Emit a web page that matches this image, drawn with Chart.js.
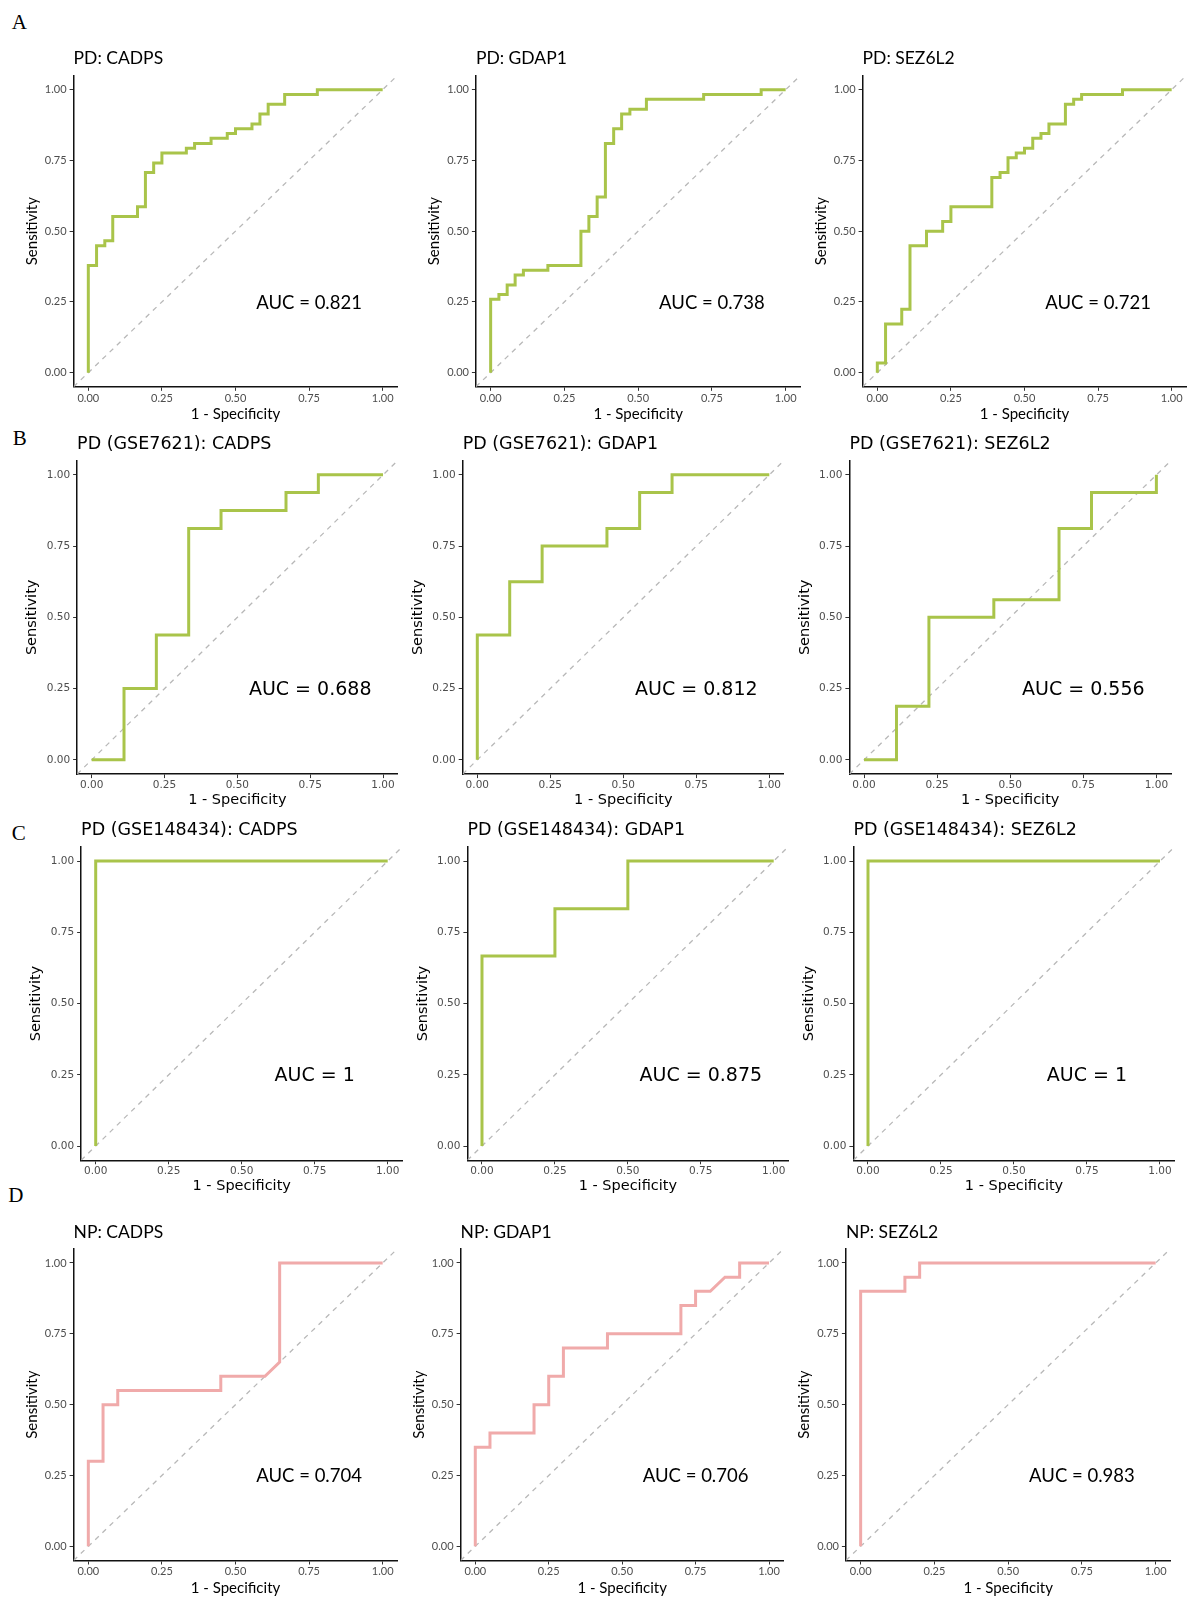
<!DOCTYPE html>
<html>
<head>
<meta charset="utf-8">
<title>ROC curves</title>
<script src="https://cdn.jsdelivr.net/npm/chart.js@4.4.1/dist/chart.umd.min.js"></script>
<style>
  html, body { margin: 0; padding: 0; background: #fff; }
  body { width: 1188px; height: 1598px; position: relative; overflow: hidden; }
  canvas { position: absolute; }
  .letter { position: absolute; font-family: 'Liberation Serif', 'Times New Roman', serif; font-size: 21px; line-height: 21px; color: #000; }
</style>
</head>
<body>
<script>
// ---- data ----
const tickValues = [0, 0.25, 0.5, 0.75, 1];
const tickLabels = ['0.00', '0.25', '0.50', '0.75', '1.00'];
const chanceLine = [-0.05, 1.05];
const aucSpot = [0.75, 0.25];

const panelLetters = ['A', 'B', 'C', 'D'];

const panelTitles = [
  'PD: CADPS', 'PD: GDAP1', 'PD: SEZ6L2',
  'PD (GSE7621): CADPS', 'PD (GSE7621): GDAP1', 'PD (GSE7621): SEZ6L2',
  'PD (GSE148434): CADPS', 'PD (GSE148434): GDAP1', 'PD (GSE148434): SEZ6L2',
  'NP: CADPS', 'NP: GDAP1', 'NP: SEZ6L2'
];
const aucLabels = [
  'AUC = 0.821', 'AUC = 0.738', 'AUC = 0.721',
  'AUC = 0.688', 'AUC = 0.812', 'AUC = 0.556',
  'AUC = 1', 'AUC = 0.875', 'AUC = 1',
  'AUC = 0.704', 'AUC = 0.706', 'AUC = 0.983'
];

// ROC vertices: false positive rate (1 - specificity) and sensitivity
const pdCadpsFpr = [0, 0, 0.028, 0.028, 0.056, 0.056, 0.083, 0.083, 0.167, 0.167, 0.194, 0.194, 0.222, 0.222, 0.25, 0.25, 0.333, 0.333, 0.361, 0.361, 0.417, 0.417, 0.472, 0.472, 0.5, 0.5, 0.556, 0.556, 0.583, 0.583, 0.611, 0.611, 0.667, 0.667, 0.778, 0.778, 1];
const pdCadpsTpr = [0, 0.379, 0.379, 0.448, 0.448, 0.466, 0.466, 0.552, 0.552, 0.586, 0.586, 0.707, 0.707, 0.741, 0.741, 0.776, 0.776, 0.793, 0.793, 0.81, 0.81, 0.828, 0.828, 0.845, 0.845, 0.862, 0.862, 0.879, 0.879, 0.914, 0.914, 0.948, 0.948, 0.983, 0.983, 1, 1];

const pdGdap1Fpr = [0, 0, 0.028, 0.028, 0.056, 0.056, 0.083, 0.083, 0.111, 0.111, 0.194, 0.194, 0.306, 0.306, 0.333, 0.333, 0.361, 0.361, 0.389, 0.389, 0.417, 0.417, 0.444, 0.444, 0.472, 0.472, 0.528, 0.528, 0.722, 0.722, 0.917, 0.917, 1];
const pdGdap1Tpr = [0, 0.259, 0.259, 0.276, 0.276, 0.31, 0.31, 0.345, 0.345, 0.362, 0.362, 0.379, 0.379, 0.5, 0.5, 0.552, 0.552, 0.621, 0.621, 0.81, 0.81, 0.862, 0.862, 0.914, 0.914, 0.931, 0.931, 0.966, 0.966, 0.983, 0.983, 1, 1];

const pdSez6l2Fpr = [0, 0, 0.028, 0.028, 0.083, 0.083, 0.111, 0.111, 0.167, 0.167, 0.222, 0.222, 0.25, 0.25, 0.389, 0.389, 0.417, 0.417, 0.444, 0.444, 0.472, 0.472, 0.5, 0.5, 0.528, 0.528, 0.556, 0.556, 0.583, 0.583, 0.639, 0.639, 0.667, 0.667, 0.694, 0.694, 0.833, 0.833, 1];
const pdSez6l2Tpr = [0, 0.034, 0.034, 0.172, 0.172, 0.224, 0.224, 0.448, 0.448, 0.5, 0.5, 0.534, 0.534, 0.586, 0.586, 0.69, 0.69, 0.707, 0.707, 0.759, 0.759, 0.776, 0.776, 0.793, 0.793, 0.828, 0.828, 0.845, 0.845, 0.879, 0.879, 0.948, 0.948, 0.966, 0.966, 0.983, 0.983, 1, 1];

const gse7621CadpsFpr = [0, 0.111, 0.111, 0.222, 0.222, 0.333, 0.333, 0.444, 0.444, 0.667, 0.667, 0.778, 0.778, 1];
const gse7621CadpsTpr = [0, 0, 0.25, 0.25, 0.438, 0.438, 0.812, 0.812, 0.875, 0.875, 0.938, 0.938, 1, 1];

const gse7621Gdap1Fpr = [0, 0, 0.111, 0.111, 0.222, 0.222, 0.444, 0.444, 0.556, 0.556, 0.667, 0.667, 1];
const gse7621Gdap1Tpr = [0, 0.438, 0.438, 0.625, 0.625, 0.75, 0.75, 0.812, 0.812, 0.938, 0.938, 1, 1];

const gse7621Sez6l2Fpr = [0, 0.111, 0.111, 0.222, 0.222, 0.444, 0.444, 0.667, 0.667, 0.778, 0.778, 1, 1];
const gse7621Sez6l2Tpr = [0, 0, 0.188, 0.188, 0.5, 0.5, 0.562, 0.562, 0.812, 0.812, 0.938, 0.938, 1];

const gse148434CadpsFpr = [0, 0, 1];
const gse148434CadpsTpr = [0, 1, 1];

const gse148434Gdap1Fpr = [0, 0, 0.25, 0.25, 0.5, 0.5, 1];
const gse148434Gdap1Tpr = [0, 0.667, 0.667, 0.833, 0.833, 1, 1];

const gse148434Sez6l2Fpr = [0, 0, 1];
const gse148434Sez6l2Tpr = [0, 1, 1];

const npCadpsFpr = [0, 0, 0.05, 0.05, 0.1, 0.1, 0.45, 0.45, 0.6, 0.65, 0.65, 1];
const npCadpsTpr = [0, 0.3, 0.3, 0.5, 0.5, 0.55, 0.55, 0.6, 0.6, 0.65, 1, 1];

const npGdap1Fpr = [0, 0, 0.05, 0.05, 0.2, 0.2, 0.25, 0.25, 0.3, 0.3, 0.45, 0.45, 0.7, 0.7, 0.75, 0.75, 0.8, 0.85, 0.9, 0.9, 1];
const npGdap1Tpr = [0, 0.35, 0.35, 0.4, 0.4, 0.5, 0.5, 0.6, 0.6, 0.7, 0.7, 0.75, 0.75, 0.85, 0.85, 0.9, 0.9, 0.95, 0.95, 1, 1];

const npSez6l2Fpr = [0, 0, 0.15, 0.15, 0.2, 0.2, 1];
const npSez6l2Tpr = [0, 0.9, 0.9, 0.95, 0.95, 1, 1];

// ---- look & layout ----
const green = '#a9c44a';
const pink = '#f0aaaa';
const sans = "Lato, 'Noto Sans', sans-serif";
const dejavu = "'DejaVu Sans', sans-serif";

// per row: fonts and where the plot panel sits on the page
const rows = {
  A: { family: sans, tick: 11, axis: 15, title: 17.5, auc: 18.5, top: 75.5, bottom: 386.8, titleC: 16.8, aucShift: 1, tickC: 11.8, xTitleC: 27.5, yTitleOff: 41.3 },
  B: { family: dejavu, tick: 10.5, axis: 14.5, title: 17.5, auc: 19, top: 460.6, bottom: 774.1, titleC: 15.8, aucShift: 1, tickC: 10.8, xTitleC: 26.2, yTitleOff: 44.6 },
  C: { family: dejavu, tick: 10.5, axis: 14.5, title: 17.5, auc: 19, top: 846.8, bottom: 1160.3, titleC: 16, aucShift: 1, tickC: 10.9, xTitleC: 26, yTitleOff: 44.5 },
  D: { family: sans, tick: 11, axis: 15, title: 17.5, auc: 18.5, top: 1248.8, bottom: 1560.5, titleC: 16.6, aucShift: 1, tickC: 11.2, xTitleC: 27.3, yTitleOff: 41.3 }
};
const panelX = {
  A: [[73.6, 397.4], [475.9, 800.4], [862.6, 1186.4]],
  B: [[77.1, 397.6], [462.7, 783.9], [849.4, 1171]],
  C: [[81.1, 402.3], [467.4, 788.3], [853.4, 1174.6]],
  D: [[73.6, 397.4], [460.6, 783.7], [845.9, 1170.4]]
};
const letterPos = [[11.7, 11.7], [12.7, 428.1], [11.7, 823.1], [8.3, 1185.1]];

// AUC annotation drawn at data coordinates
const aucPlugin = {
  id: 'aucLabel',
  afterDatasetsDraw(chart, args, opts) {
    const { ctx, scales: { x, y } } = chart;
    ctx.save();
    ctx.font = `${opts.size}px ${opts.family}`;
    ctx.fillStyle = '#000';
    ctx.textAlign = 'center';
    ctx.textBaseline = 'middle';
    ctx.fillText(opts.text, x.getPixelForValue(aucSpot[0]), y.getPixelForValue(aucSpot[1]) + opts.shift);
    ctx.restore();
  }
};

function toPoints(xs, ys) {
  return xs.map((v, i) => ({ x: v, y: ys[i] }));
}

function axisOptions(r, isX, pad, boxSize) {
  return {
    type: 'linear',
    min: chanceLine[0],
    max: chanceLine[1],
    afterBuildTicks: (scale) => { scale.ticks = tickValues.map(v => ({ value: v })); },
    afterFit: (scale) => { if (isX) scale.height = boxSize; else scale.width = boxSize; },
    ticks: {
      font: { family: r.family, size: r.tick },
      color: '#4d4d4d',
      padding: pad,
      maxRotation: 0,
      callback: (v) => tickLabels[tickValues.indexOf(v)]
    },
    grid: { display: true, drawOnChartArea: false, drawTicks: true, tickLength: 4, color: '#333', lineWidth: 1 },
    border: { display: true, color: '#111', width: 1.5 },
    title: {
      display: true,
      text: isX ? '1 - Specificity' : 'Sensitivity',
      color: '#000',
      font: { family: r.family, size: r.axis, lineHeight: 1.2 },
      padding: isX ? { top: 0, bottom: 0 } : { top: boxSize - r.yTitleOff - r.axis * 0.6, bottom: 0 }
    }
  };
}

function makePanel(idx, rowKey, col, fpr, tpr, color) {
  const r = rows[rowKey];
  const [left, right] = panelX[rowKey][col];
  const plotW = right - left;

  const canvasLeft = Math.floor(left - 58);
  const leftM = left - canvasLeft;
  const titleLH = r.title * 1.2;
  const titleEdge = r.top - r.titleC - titleLH / 2;
  const canvasTop = Math.floor(titleEdge);
  const xBox = r.xTitleC + r.axis * 0.6;

  const W = Math.ceil(leftM + plotW + 6);
  const H = Math.ceil(r.bottom - canvasTop + xBox + 2);

  const canvas = document.createElement('canvas');
  canvas.width = W;
  canvas.height = H;
  canvas.style.left = canvasLeft + 'px';
  canvas.style.top = canvasTop + 'px';
  canvas.style.width = W + 'px';
  canvas.style.height = H + 'px';
  document.body.appendChild(canvas);

  const xScale = axisOptions(r, true, r.tickC - 4 - r.tick * 0.6, xBox);
  const yScale = axisOptions(r, false, 3, leftM);

  new Chart(canvas.getContext('2d'), {
    type: 'scatter',
    data: {
      datasets: [
        {
          data: toPoints(fpr, tpr),
          showLine: true,
          borderColor: color,
          borderWidth: 3,
          pointRadius: 0,
          borderJoinStyle: 'miter'
        },
        {
          data: toPoints(chanceLine, chanceLine),
          showLine: true,
          borderColor: '#b8b8b8',
          borderWidth: 1.3,
          borderDash: [5, 5],
          pointRadius: 0
        }
      ]
    },
    options: {
      responsive: false,
      animation: false,
      devicePixelRatio: 1,
      layout: {
        padding: { left: 0, top: 0, right: W - leftM - plotW, bottom: H - (r.bottom - canvasTop) - xBox }
      },
      scales: { x: xScale, y: yScale },
      plugins: {
        legend: { display: false },
        tooltip: { enabled: false },
        title: {
          display: true,
          text: panelTitles[idx],
          align: 'start',
          fullSize: false,
          color: '#000',
          font: { family: r.family, size: r.title, weight: 'normal', lineHeight: 1.2 },
          padding: { top: titleEdge - canvasTop, bottom: r.titleC - titleLH / 2 }
        },
        aucLabel: { text: aucLabels[idx], size: r.auc, family: r.family, shift: r.aucShift }
      }
    },
    plugins: [aucPlugin]
  });
}

// panel letters
panelLetters.forEach((t, i) => {
  const d = document.createElement('div');
  d.className = 'letter';
  d.textContent = t;
  d.style.left = letterPos[i][0] + 'px';
  d.style.top = letterPos[i][1] + 'px';
  document.body.appendChild(d);
});

// build the 12 panels
makePanel(0, 'A', 0, pdCadpsFpr, pdCadpsTpr, green);
makePanel(1, 'A', 1, pdGdap1Fpr, pdGdap1Tpr, green);
makePanel(2, 'A', 2, pdSez6l2Fpr, pdSez6l2Tpr, green);
makePanel(3, 'B', 0, gse7621CadpsFpr, gse7621CadpsTpr, green);
makePanel(4, 'B', 1, gse7621Gdap1Fpr, gse7621Gdap1Tpr, green);
makePanel(5, 'B', 2, gse7621Sez6l2Fpr, gse7621Sez6l2Tpr, green);
makePanel(6, 'C', 0, gse148434CadpsFpr, gse148434CadpsTpr, green);
makePanel(7, 'C', 1, gse148434Gdap1Fpr, gse148434Gdap1Tpr, green);
makePanel(8, 'C', 2, gse148434Sez6l2Fpr, gse148434Sez6l2Tpr, green);
makePanel(9, 'D', 0, npCadpsFpr, npCadpsTpr, pink);
makePanel(10, 'D', 1, npGdap1Fpr, npGdap1Tpr, pink);
makePanel(11, 'D', 2, npSez6l2Fpr, npSez6l2Tpr, pink);
</script>
</body>
</html>
